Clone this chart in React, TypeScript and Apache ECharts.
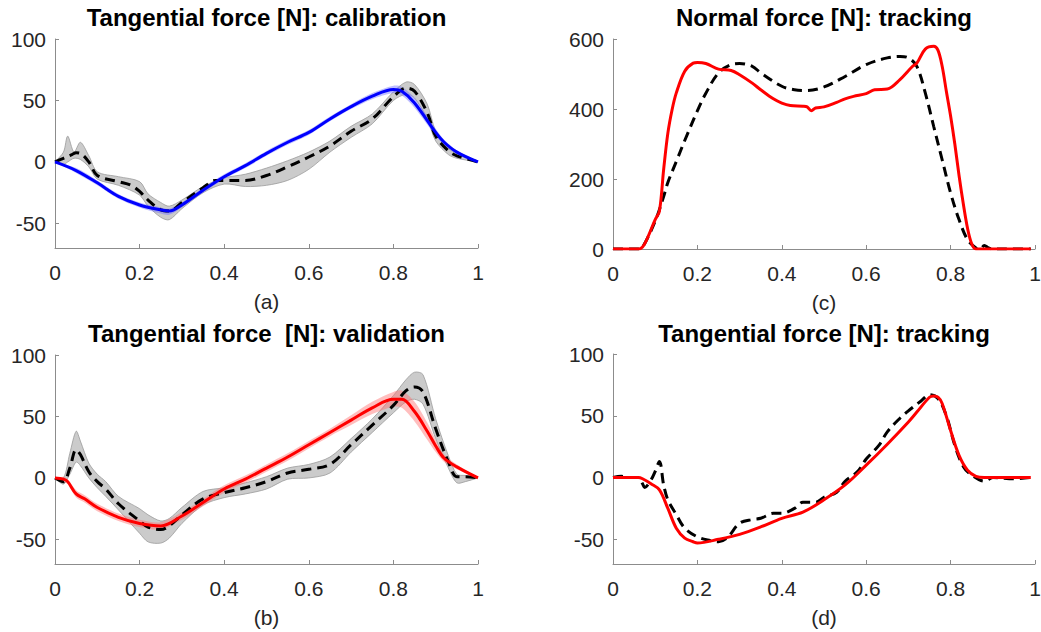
import React, { useEffect, useRef } from 'react';
import * as echarts from 'echarts';

// ---------- Titles / labels ----------
const TITLES = [
  'Tangential force [N]: calibration',
  'Normal force [N]: tracking',
  'Tangential force  [N]: validation',
  'Tangential force [N]: tracking',
];
const PANEL_LABELS = ['(a)', '(c)', '(b)', '(d)'];
const TANG_TICKS = [-50, 0, 50, 100];

// ---------- Panel (a): calibration ----------
const A_X_MEAN = [0, 0.02, 0.04, 0.05, 0.06, 0.08, 0.1, 0.15, 0.18, 0.2, 0.22, 0.25, 0.27, 0.3, 0.35, 0.38, 0.4, 0.45, 0.5, 0.55, 0.6, 0.65, 0.7, 0.75, 0.8, 0.83, 0.85, 0.88, 0.9, 0.93, 0.95, 1];
const A_MEAN = [0, 3, 6, 7.5, 7, 0, -11, -16, -19, -24, -31, -39, -40, -33, -21, -15, -15, -15, -11, -4, 4, 13, 25, 35, 53, 60, 57.5, 40, 21, 9, 5, 0];
const A_X_BAND = [0, 0.02, 0.03, 0.045, 0.06, 0.08, 0.1, 0.15, 0.2, 0.22, 0.25, 0.27, 0.3, 0.35, 0.4, 0.45, 0.5, 0.55, 0.6, 0.65, 0.7, 0.75, 0.8, 0.83, 0.85, 0.88, 0.9, 0.93, 0.95, 1];
const A_UP = [0, 8, 21, 8, 16, 5, -8, -12, -16, -26, -33, -36, -31, -20, -13, -10, -5, 1, 8, 17, 29, 39, 57, 65, 63, 47, 25, 11, 7, 0];
const A_LO = [0, -2, 0, 3, 2, -4, -14, -19, -27, -36, -45, -47, -38, -25, -18, -20, -19, -15, -6, 8, 20, 31, 50, 55, 52, 35, 17, 6, 3, 0];
const A_X_MODEL = [0, 0.05, 0.1, 0.15, 0.2, 0.25, 0.27, 0.3, 0.35, 0.4, 0.45, 0.5, 0.55, 0.6, 0.65, 0.7, 0.75, 0.8, 0.82, 0.85, 0.9, 0.92, 0.95, 1];
const A_MODEL = [0, -7, -17, -28, -35, -39, -40, -35, -23, -12, -3, 7, 16, 24, 35, 45, 53.5, 59, 57.5, 48, 24, 16, 8, 0];
const A_MODEL_UP = [0, -5, -15, -26, -33, -37, -38, -33, -21, -10, -1, 9, 18, 26, 37, 47, 56, 62, 61, 52, 27, 18, 9.5, 0];
const A_MODEL_LO = [0, -9, -19, -30, -37, -42, -43, -37, -25, -14, -5, 5, 14, 22, 33, 43, 51, 56, 54, 44, 21, 14, 6.5, 0];

// ---------- Panel (b): validation ----------
const B_X_MEAN = [0, 0.02, 0.035, 0.05, 0.06, 0.08, 0.1, 0.12, 0.15, 0.2, 0.22, 0.25, 0.27, 0.3, 0.35, 0.4, 0.45, 0.5, 0.55, 0.6, 0.65, 0.7, 0.75, 0.8, 0.83, 0.85, 0.87, 0.9, 0.93, 0.95, 0.97, 1];
const B_MEAN = [0, -3, 8, 23, 19, 5, -3, -9, -21, -35, -40, -42, -39, -30, -17, -12, -8, -3, 4, 7, 11, 27, 43, 59, 71, 74, 70, 40, 13, 1, 1, 0];
const B_UP = [0, 0, 20, 38, 30, 12, 3, -3, -15, -25, -30, -35, -33, -24, -11, -8, -4, 1, 8, 11, 17, 32, 48, 67, 80, 86, 84, 48, 18, 3, 2, 0];
const B_LO = [0, -5, 3, 13, 10, 0, -8, -15, -26, -45, -52, -53, -49, -37, -22, -16, -13, -9, -1, 0, 4, 21, 37, 53, 62, 64, 60, 32, 8, -4, -3, 0];
const B_X_MODEL = [0, 0.02, 0.03, 0.05, 0.07, 0.1, 0.15, 0.2, 0.25, 0.3, 0.35, 0.4, 0.45, 0.5, 0.55, 0.6, 0.65, 0.7, 0.75, 0.8, 0.82, 0.85, 0.88, 0.9, 0.92, 0.95, 1];
const B_MODEL = [0, -1, -3, -13, -17, -24, -32, -37, -39, -31, -20, -9, -1, 8, 17, 27, 37, 47, 57, 64, 64, 54, 38, 26, 16, 9, 0];
const B_MODEL_UP = [0, 1, -1, -10, -14, -21, -29, -34, -36, -28, -17, -6, 2, 11, 20, 30, 40, 51, 62, 70, 71, 62, 45, 31, 19, 11, 0];
const B_MODEL_LO = [0, -3, -5, -16, -20, -27, -35, -40, -42, -34, -23, -12, -4, 5, 14, 24, 34, 43, 52, 58, 57, 46, 31, 21, 13, 7, 0];

// ---------- Panel (c): normal force tracking ----------
const C_X_MEAN = [0, 0.06, 0.07, 0.1, 0.12, 0.13, 0.15, 0.17, 0.2, 0.22, 0.25, 0.28, 0.3, 0.33, 0.35, 0.4, 0.43, 0.46, 0.5, 0.55, 0.6, 0.65, 0.68, 0.7, 0.72, 0.74, 0.76, 0.78, 0.8, 0.82, 0.84, 0.86, 0.87, 0.88, 0.89, 0.9, 0.95, 0.99];
const C_MEAN = [0, 0, 5, 80, 150, 190, 250, 310, 395, 445, 503, 527, 530, 522, 503, 465, 455, 453, 463, 493, 527, 546, 550, 546, 522, 446, 350, 255, 160, 84, 27, 3, 0, 10, 3, 0, 0, 0];
const C_X_MODEL = [0, 0.05, 0.06, 0.07, 0.08, 0.1, 0.11, 0.12, 0.13, 0.14, 0.15, 0.17, 0.19, 0.2, 0.22, 0.25, 0.28, 0.3, 0.33, 0.35, 0.38, 0.4, 0.42, 0.45, 0.46, 0.47, 0.48, 0.5, 0.53, 0.55, 0.57, 0.6, 0.62, 0.65, 0.68, 0.71, 0.72, 0.74, 0.76, 0.77, 0.78, 0.79, 0.8, 0.81, 0.82, 0.83, 0.84, 0.85, 0.86, 0.9, 0.95, 0.99];
const C_MODEL = [0, 0, 0, 6, 27, 84, 108, 227, 331, 398, 446, 508, 531, 533, 530, 514, 510, 498, 474, 455, 429, 417, 410, 408, 406, 395, 403, 406, 419, 429, 436, 444, 455, 457, 484, 522, 531, 571, 579, 568, 522, 450, 380, 300, 210, 130, 60, 15, 0, 0, 0, 0];

// ---------- Panel (d): tangential force tracking ----------
const D_X_MEAN = [0, 0.02, 0.04, 0.06, 0.07, 0.075, 0.09, 0.1, 0.11, 0.12, 0.13, 0.15, 0.17, 0.2, 0.23, 0.25, 0.27, 0.3, 0.33, 0.35, 0.38, 0.4, 0.43, 0.45, 0.48, 0.5, 0.53, 0.55, 0.58, 0.6, 0.63, 0.65, 0.68, 0.7, 0.73, 0.75, 0.77, 0.79, 0.81, 0.83, 0.85, 0.88, 0.9, 0.95, 0.99];
const D_MEAN = [0, 1, 0, 0, -5, -8, -2, 5, 13, -6, -18, -30, -41, -48, -51, -52, -49, -37, -34, -33, -29, -29, -25, -20, -20, -16, -12, -3, 5, 15, 26, 37, 48, 54, 62, 67, 64, 50, 26, 9, 2, -3, 0, -1, 0];
const D_X_MODEL = [0, 0.06, 0.07, 0.09, 0.11, 0.13, 0.15, 0.17, 0.19, 0.2, 0.25, 0.3, 0.35, 0.4, 0.45, 0.5, 0.55, 0.6, 0.65, 0.7, 0.72, 0.75, 0.76, 0.77, 0.78, 0.8, 0.82, 0.84, 0.86, 0.88, 0.99];
const D_MODEL = [0, 0, -1, -5, -10, -25, -41, -49, -52, -53, -50, -46, -40, -33, -28, -18, -6, 10, 27, 45, 53, 65, 66, 65, 60, 38, 18, 6, 1, 0, 0];

// ---------- styling ----------
const FONT = '"Liberation Sans", Arial, Helvetica, sans-serif';
const AXIS_COLOR = '#8c8c8c';
const LABEL_COLOR = '#262626';
const GRAY_FILL = 'rgba(190,190,190,0.8)';
const GRAY_EDGE = '#9a9a9a';

const zip = (xs: number[], ys: number[]) => xs.map((x, i) => [x, ys[i]]);

function xAxis(gridIndex: number, name: string) {
  return {
    type: 'value', gridIndex, min: 0, max: 1, interval: 0.2,
    name, nameLocation: 'middle', nameGap: 43,
    nameTextStyle: { fontSize: 21, color: LABEL_COLOR, fontFamily: FONT },
    axisLine: { show: true, onZero: false, lineStyle: { color: AXIS_COLOR, width: 1 } },
    axisTick: { show: true, inside: true, length: 4, lineStyle: { color: AXIS_COLOR } },
    axisLabel: {
      fontSize: 21, color: LABEL_COLOR, fontFamily: FONT, margin: 14,
      formatter: (v: number) => String(Math.round(v * 10) / 10),
    },
    splitLine: { show: false },
  };
}

function yAxisTang(gridIndex: number) {
  return {
    type: 'value', gridIndex, min: -70, max: 100,
    axisLine: { show: true, lineStyle: { color: AXIS_COLOR, width: 1 } },
    axisTick: { show: true, inside: true, length: 4, customValues: TANG_TICKS, lineStyle: { color: AXIS_COLOR } },
    axisLabel: { fontSize: 21, color: LABEL_COLOR, fontFamily: FONT, margin: 9, customValues: TANG_TICKS },
    splitLine: { show: false },
  };
}

function yAxisNormal(gridIndex: number) {
  return {
    type: 'value', gridIndex, min: 0, max: 600, interval: 200,
    axisLine: { show: true, lineStyle: { color: AXIS_COLOR, width: 1 } },
    axisTick: { show: true, inside: true, length: 4, lineStyle: { color: AXIS_COLOR } },
    axisLabel: { fontSize: 21, color: LABEL_COLOR, fontFamily: FONT, margin: 9 },
    splitLine: { show: false },
  };
}

function band(idx: number, xs: number[], lo: number[], hi: number[], fill: string, stroke: string, z: number) {
  return {
    type: 'custom', xAxisIndex: idx, yAxisIndex: idx, z, silent: true,
    data: [[xs[0], lo[0]]],
    renderItem: (_p: any, api: any) => {
      const pts: number[][] = [];
      for (let i = 0; i < xs.length; i++) pts.push(api.coord([xs[i], hi[i]]));
      for (let i = xs.length - 1; i >= 0; i--) pts.push(api.coord([xs[i], lo[i]]));
      return {
        type: 'polygon',
        shape: { points: pts, smooth: 0.3 },
        style: { fill, stroke, lineWidth: stroke === 'none' ? 0 : 0.8 },
      };
    },
  };
}

function line(idx: number, xs: number[], ys: number[], color: string, dashed: boolean, z: number) {
  return {
    type: 'line', xAxisIndex: idx, yAxisIndex: idx, z,
    data: zip(xs, ys), showSymbol: false, symbol: 'none',
    smooth: 0.35, silent: true,
    lineStyle: { color, width: 3, type: dashed ? [10, 6] : 'solid' },
  };
}

export default function App() {
  const ref = useRef<HTMLDivElement>(null);
  useEffect(() => {
    const chart = echarts.init(ref.current!, null, { renderer: 'svg' });
    const grids = [
      { left: 55, top: 39, width: 423, height: 209 },
      { left: 613, top: 39, width: 422, height: 210 },
      { left: 55, top: 355, width: 423, height: 209 },
      { left: 613, top: 354, width: 422, height: 210 },
    ].map((g) => ({ ...g, containLabel: false, outerBoundsMode: 'none' }));

    const titlePos = [
      [266.5, 5], [824, 5], [266.5, 321], [824, 321],
    ];

    const option: any = {
      animation: false,
      backgroundColor: '#ffffff',
      grid: grids,
      xAxis: [0, 1, 2, 3].map((i) => xAxis(i, PANEL_LABELS[i])),
      yAxis: [yAxisTang(0), yAxisNormal(1), yAxisTang(2), yAxisTang(3)],
      graphic: TITLES.map((t, i) => ({
        type: 'text', x: titlePos[i][0], y: titlePos[i][1], silent: true,
        style: {
          text: t, fill: '#000', fontFamily: FONT, fontSize: 24, fontWeight: 'bold',
          align: 'center', verticalAlign: 'top',
        },
      })),
      series: [
        // (a)
        band(0, A_X_BAND, A_LO, A_UP, GRAY_FILL, GRAY_EDGE, 1),
        band(0, A_X_MODEL, A_MODEL_LO, A_MODEL_UP, 'rgba(110,110,255,0.45)', 'none', 2),
        line(0, A_X_MEAN, A_MEAN, '#000000', true, 3),
        line(0, A_X_MODEL, A_MODEL, '#0000ff', false, 4),
        // (c)
        line(1, C_X_MEAN, C_MEAN, '#000000', true, 3),
        line(1, C_X_MODEL, C_MODEL, '#ff0000', false, 4),
        // (b)
        band(2, B_X_MEAN, B_LO, B_UP, GRAY_FILL, GRAY_EDGE, 1),
        band(2, B_X_MODEL, B_MODEL_LO, B_MODEL_UP, 'rgba(255,110,110,0.45)', 'none', 2),
        line(2, B_X_MEAN, B_MEAN, '#000000', true, 3),
        line(2, B_X_MODEL, B_MODEL, '#ff0000', false, 4),
        // (d)
        line(3, D_X_MEAN, D_MEAN, '#000000', true, 3),
        line(3, D_X_MODEL, D_MODEL, '#ff0000', false, 4),
      ],
    };
    chart.setOption(option);
    return () => chart.dispose();
  }, []);
  return (
    <div
      ref={ref}
      style={{ position: 'fixed', left: 0, top: 0, width: 1041, height: 632, background: '#fff' }}
    />
  );
}
